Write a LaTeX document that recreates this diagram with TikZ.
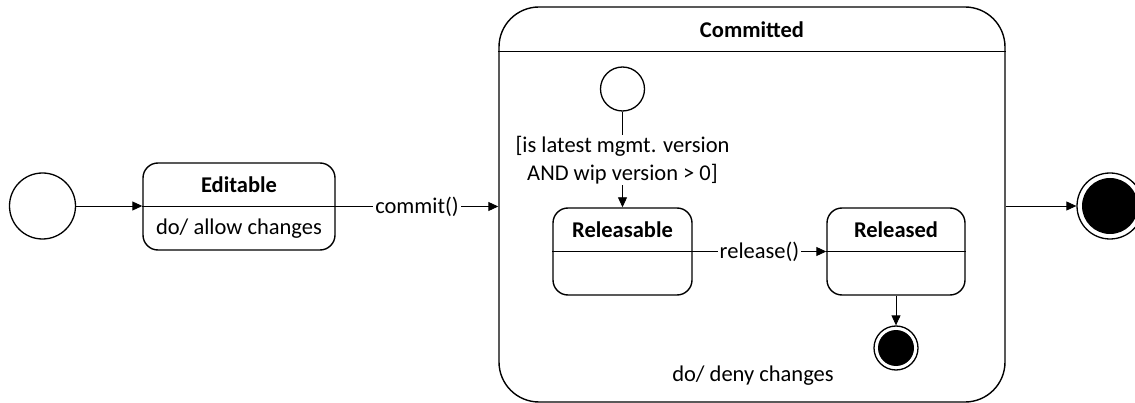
\documentclass[tikz,border=0pt]{standalone}
\usepackage{fontspec}
\setmainfont{Carlito}
\usetikzlibrary{arrows.meta}
\begin{document}
\begin{tikzpicture}[x=1pt,y=-1pt,
  every node/.style={font=\fontsize{22.5}{28}\selectfont, inner sep=0pt},
  statebox/.style={draw, line width=1.4pt, rounded corners=15pt},
  superbox/.style={draw, line width=1.4pt, rounded corners=40pt},
  title/.style={font=\fontsize{22.5}{28}\selectfont\bfseries},
  initstate/.style={circle, draw, line width=1.3pt, fill=white},
  finalring/.style={circle, draw, line width=1.3pt, fill=white},
  finaldot/.style={circle, fill=black},
  trans/.style={line width=0.9pt, -{Triangle[length=10pt,width=9pt]}},
  trlabel/.style={fill=white, inner xsep=2pt, inner ysep=1pt}
]
\useasboundingbox (0,0) rectangle (1135,403);

% composite state
\node[superbox, minimum width=506pt, minimum height=395pt] (comm) at (752,204.5) {};
\path (comm.north) ++(0,45) coordinate (hdr);
\draw[line width=1.4pt] (comm.west |- hdr) -- (comm.east |- hdr);
\node[title] (commt) at (752,30) {Committed};
\node (commd) at (753,376) {do/ deny changes};

% simple states
\node[statebox, minimum width=192pt, minimum height=87pt] (edit) at (239,206.5) {};
\draw[line width=1.4pt] (edit.west) -- (edit.east);
\node[title] (editt) at (239,185) {Editable};
\node (editd) at (239,229) {do/ allow changes};

\node[statebox, minimum width=139pt, minimum height=87pt] (rel) at (622.5,251.5) {};
\draw[line width=1.4pt] (rel.west) -- (rel.east);
\node[title] (relt) at (622.5,230) {Releasable};

\node[statebox, minimum width=138pt, minimum height=87pt] (rld) at (896,251.5) {};
\draw[line width=1.4pt] (rld.west) -- (rld.east);
\node[title] (rldt) at (896,230) {Released};

% pseudo states
\node[initstate, minimum size=66pt] (init) at (42.5,206) {};
\node[initstate, minimum size=44pt] (init2) at (622.5,89) {};
\node[finalring, minimum size=44pt] (fin2) at (896,348) {};
\node[finaldot, minimum size=36pt] (fin2d) at (896,348) {};
\node[finalring, minimum size=66pt] (fin) at (1110,206) {};
\node[finaldot, minimum size=56pt] (find) at (1110,206) {};

% transitions
\draw[trans] (init) -- (edit.west |- init);
\draw[trans] (edit.east) -- node[trlabel] {commit()} (comm.west |- edit.east);
\draw[trans] (init2) -- (rel.north);
\node[trlabel, align=center] (guard) at (622.5,160) {[is latest mgmt. version\\AND wip version > 0]};
\draw[trans] (rel.east) -- node[trlabel] {release()} (rld.west);
\draw[trans] (rld.south) -- (fin2);
\draw[trans] (comm.east |- fin) -- (fin);
\end{tikzpicture}
\end{document}
